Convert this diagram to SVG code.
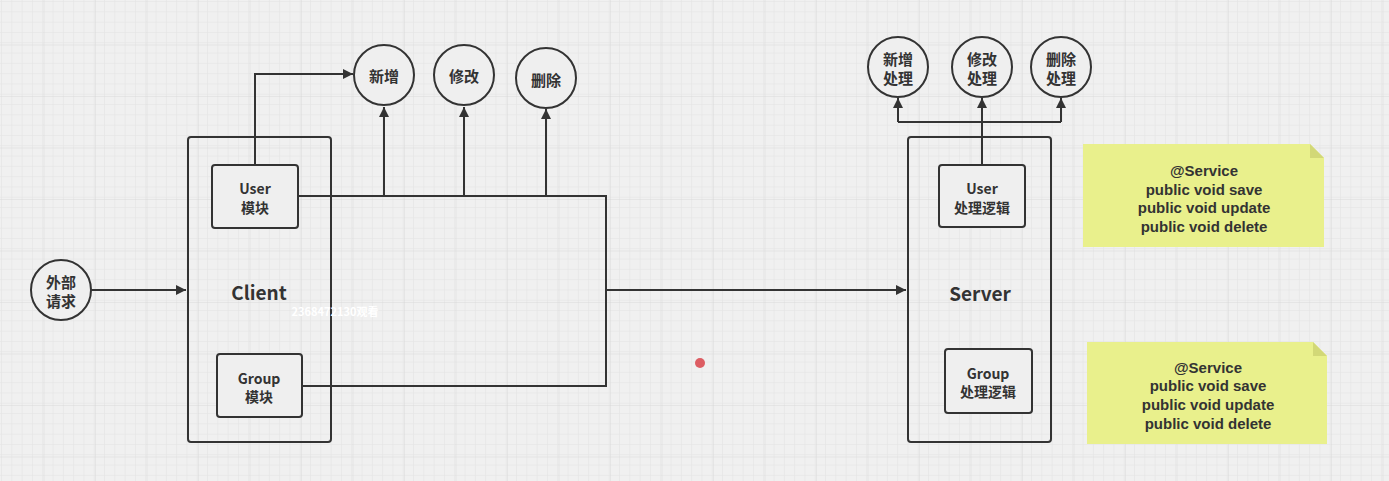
<svg xmlns="http://www.w3.org/2000/svg" width="1389" height="481" viewBox="0 0 1389 481">
<defs>
<pattern id="minor" x="2" y="2" width="10.3" height="10.3" patternUnits="userSpaceOnUse">
<path d="M10.3 0V10.3H0" fill="none" stroke="#e2e2e2" stroke-width="1"/>
</pattern>
<pattern id="major" x="-7" y="-6" width="51.5" height="51.5" patternUnits="userSpaceOnUse">
<path d="M51.5 0V51.5H0" fill="none" stroke="#d9d9d9" stroke-width="1"/>
</pattern>
<marker id="arr" viewBox="0 0 10 10" refX="10" refY="5" markerWidth="10" markerHeight="10" markerUnits="userSpaceOnUse" orient="auto">
<path d="M0 0L10 5L0 10Z" fill="#333"/>
</marker>
<style>
.ln{fill:none;stroke:#333;stroke-width:2}
.bx{fill:#efefef;stroke:#333;stroke-width:2}
.t{font-family:"Noto Sans CJK SC","Noto Sans",sans-serif;font-weight:bold;fill:#333;text-anchor:middle;dominant-baseline:central}
.nt{font-family:"Liberation Sans",Arial,sans-serif;font-weight:bold;font-size:15px;fill:#333;text-anchor:middle;dominant-baseline:central}
.s14{font-size:14px}
.s15{font-size:15px}
.s19{font-size:19px}
.note{fill:#e9f08c}
.fold{fill:#d2d877}
</style>
</defs>
<rect width="1389" height="481" fill="#f0f0f0"/>
<rect width="1389" height="481" fill="url(#minor)"/>
<rect width="1389" height="481" fill="url(#major)"/>

<g id="connectors">
<path class="ln" d="M90 290H186" marker-end="url(#arr)"/>
<path class="ln" d="M255 165V74H353" marker-end="url(#arr)"/>
<path class="ln" d="M298 196H606V386H302"/>
<path class="ln" d="M384 196V107" marker-end="url(#arr)"/>
<path class="ln" d="M464 196V107" marker-end="url(#arr)"/>
<path class="ln" d="M546 196V109" marker-end="url(#arr)"/>
<path class="ln" d="M606 290H906" marker-end="url(#arr)"/>
<path class="ln" d="M982 165V122"/>
<path class="ln" d="M898 122H1061"/>
<path class="ln" d="M898 122V98" marker-end="url(#arr)"/>
<path class="ln" d="M982 122V98" marker-end="url(#arr)"/>
<path class="ln" d="M1061 122V98" marker-end="url(#arr)"/>
</g>

<g id="external">
<circle class="bx" cx="61" cy="290" r="30"/>
<text class="t s15" x="61" y="281">外部</text>
<text class="t s15" x="61" y="300">请求</text>
</g>

<g id="client">
<rect class="bx" x="188" y="137" width="143" height="305" rx="3" style="fill:none"/>
<text class="t s19" x="259" y="291">Client</text>
</g>
<g id="user-module">
<rect class="bx" x="212" y="165" width="86" height="63" rx="3"/>
<text class="t s14" x="255" y="188">User</text>
<text class="t s14" x="255" y="207">模块</text>
</g>
<g id="group-module">
<rect class="bx" x="217" y="354" width="85" height="63" rx="3"/>
<text class="t s14" x="259" y="378">Group</text>
<text class="t s14" x="259" y="396">模块</text>
</g>

<g id="add">
<circle class="bx" cx="384" cy="75" r="30"/>
<text class="t s15" x="384" y="75">新增</text>
</g>
<g id="edit">
<circle class="bx" cx="464" cy="75" r="30"/>
<text class="t s15" x="464" y="75">修改</text>
</g>
<g id="delete">
<circle class="bx" cx="546" cy="78" r="30"/>
<text class="t s15" x="546" y="79">删除</text>
</g>

<g id="server">
<rect class="bx" x="908" y="137" width="143" height="305" rx="3" style="fill:none"/>
<text class="t s19" x="980" y="292">Server</text>
</g>
<g id="user-logic">
<rect class="bx" x="939" y="165" width="86" height="62" rx="3"/>
<text class="t s14" x="982" y="188">User</text>
<text class="t s14" x="982" y="207">处理逻辑</text>
</g>
<g id="group-logic">
<rect class="bx" x="945" y="349" width="87" height="64" rx="3"/>
<text class="t s14" x="988" y="373">Group</text>
<text class="t s14" x="988" y="391">处理逻辑</text>
</g>

<g id="add-handle">
<circle class="bx" cx="898" cy="67" r="30"/>
<text class="t s15" x="898" y="58">新增</text>
<text class="t s15" x="898" y="77">处理</text>
</g>
<g id="edit-handle">
<circle class="bx" cx="982" cy="67" r="30"/>
<text class="t s15" x="982" y="58">修改</text>
<text class="t s15" x="982" y="77">处理</text>
</g>
<g id="delete-handle">
<circle class="bx" cx="1061" cy="67" r="30"/>
<text class="t s15" x="1061" y="58">删除</text>
<text class="t s15" x="1061" y="77">处理</text>
</g>

<g id="note1">
<path class="note" d="M1083 144H1310L1324 158V247H1083Z"/>
<path class="fold" d="M1310 144L1324 158H1310Z"/>
<text class="nt" x="1204" y="170">@Service</text>
<text class="nt" x="1204" y="189">public void save</text>
<text class="nt" x="1204" y="207">public void update</text>
<text class="nt" x="1204" y="226">public void delete</text>
</g>
<g id="note2">
<path class="note" d="M1087 342H1313L1327 356V444H1087Z"/>
<path class="fold" d="M1313 342L1327 356H1313Z"/>
<text class="nt" x="1208" y="367">@Service</text>
<text class="nt" x="1208" y="385">public void save</text>
<text class="nt" x="1208" y="404">public void update</text>
<text class="nt" x="1208" y="423">public void delete</text>
</g>

<text class="t" x="335" y="311" style="font-size:11px;fill:#ffffff">2368472130观看</text>
<circle cx="700" cy="363" r="5" fill="#d9434a" opacity="0.85"/>
</svg>
